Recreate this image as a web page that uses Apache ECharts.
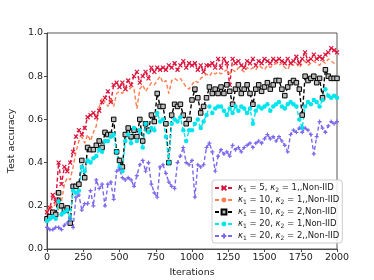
<!DOCTYPE html>
<html><head><meta charset="utf-8">
<script src="https://cdn.jsdelivr.net/npm/echarts@6/dist/echarts.min.js"></script>
<style>html,body{margin:0;padding:0;background:#fff}#c{width:374px;height:280px}</style>
</head><body><div id="c"></div>
<script>
const iterations = Array.from({length: 101}, (_, i) => i * 20);
const xTicks = [0, 250, 500, 750, 1000, 1250, 1500, 1750, 2000];
const yTicks = [0.0, 0.2, 0.4, 0.6, 0.8, 1.0];
const seriesNames = ['k1=5,k2=1','k1=10,k2=1','k1=10,k2=2a','k1=20,k2=1','k1=20,k2=2'];
const legendLabels = [['5','1',',,Non-IID'],['10','1',',,Non-IID'],['10','2',',Non-IID'],['20','1',',Non-IID'],['20','2',',,Non-IID']];

const red = [0.17,0.19,0.25,0.22,0.40,0.30,0.38,0.36,0.40,0.45,
0.52,0.55,0.53,0.56,0.61,0.62,0.63,0.61,0.64,0.68,
0.70,0.73,0.68,0.76,0.77,0.75,0.77,0.74,0.78,0.76,
0.80,0.82,0.77,0.80,0.82,0.79,0.84,0.82,0.84,0.83,
0.84,0.83,0.85,0.84,0.86,0.83,0.85,0.87,0.84,0.86,
0.85,0.86,0.83,0.85,0.82,0.85,0.85,0.86,0.84,0.88,
0.84,0.88,0.86,0.76,0.88,0.86,0.87,0.85,0.84,0.87,
0.86,0.88,0.85,0.87,0.86,0.88,0.87,0.86,0.88,0.87,
0.88,0.87,0.86,0.88,0.86,0.87,0.89,0.86,0.88,0.91,
0.87,0.88,0.90,0.88,0.89,0.88,0.90,0.91,0.93,0.92,0.91];
const orange = [0.17,0.20,0.19,0.21,0.18,0.22,0.30,0.33,0.32,0.38,
0.45,0.50,0.52,0.49,0.53,0.50,0.54,0.57,0.66,0.70,
0.68,0.66,0.70,0.66,0.72,0.73,0.72,0.74,0.73,0.75,
0.74,0.65,0.74,0.76,0.73,0.75,0.77,0.76,0.78,0.80,
0.77,0.78,0.72,0.78,0.79,0.78,0.79,0.77,0.75,0.74,
0.76,0.78,0.77,0.79,0.80,0.81,0.80,0.82,0.81,0.82,
0.81,0.82,0.83,0.81,0.83,0.82,0.84,0.83,0.82,0.84,
0.83,0.84,0.83,0.85,0.84,0.83,0.85,0.84,0.85,0.86,
0.85,0.86,0.84,0.83,0.86,0.85,0.86,0.84,0.86,0.87,
0.85,0.86,0.87,0.86,0.85,0.87,0.86,0.88,0.87,0.86,0.85];
const black = [0.14,0.15,0.17,0.16,0.26,0.20,0.18,0.19,0.12,0.29,
0.29,0.30,0.41,0.33,0.47,0.46,0.46,0.48,0.50,0.47,
0.54,0.53,0.53,0.60,0.45,0.41,0.38,0.53,0.56,0.52,
0.55,0.52,0.60,0.50,0.58,0.55,0.62,0.59,0.72,0.66,
0.66,0.58,0.40,0.62,0.67,0.66,0.67,0.62,0.58,0.60,
0.69,0.74,0.70,0.63,0.66,0.70,0.75,0.72,0.74,0.72,
0.75,0.72,0.76,0.73,0.67,0.74,0.76,0.72,0.74,0.76,
0.72,0.67,0.74,0.76,0.73,0.75,0.77,0.74,0.76,0.78,
0.78,0.74,0.71,0.75,0.77,0.78,0.77,0.74,0.62,0.80,
0.78,0.79,0.80,0.77,0.79,0.70,0.83,0.80,0.79,0.79,0.79];
const cyan = [0.13,0.14,0.15,0.14,0.22,0.16,0.17,0.18,0.14,0.27,
0.26,0.27,0.38,0.36,0.41,0.40,0.42,0.43,0.46,0.45,
0.50,0.50,0.52,0.53,0.45,0.38,0.36,0.50,0.53,0.49,
0.56,0.50,0.55,0.47,0.58,0.54,0.56,0.55,0.63,0.59,
0.60,0.52,0.40,0.58,0.60,0.59,0.61,0.55,0.50,0.55,
0.55,0.58,0.60,0.56,0.59,0.62,0.66,0.63,0.65,0.66,
0.66,0.64,0.62,0.65,0.63,0.66,0.64,0.66,0.65,0.63,
0.65,0.58,0.64,0.66,0.65,0.66,0.67,0.64,0.66,0.67,
0.68,0.66,0.65,0.67,0.68,0.67,0.66,0.60,0.56,0.66,
0.68,0.67,0.69,0.68,0.66,0.69,0.74,0.71,0.70,0.71,0.70];
const purple = [0.10,0.09,0.09,0.10,0.10,0.09,0.11,0.12,0.14,0.10,
0.24,0.25,0.18,0.21,0.21,0.27,0.20,0.32,0.28,0.30,
0.20,0.30,0.31,0.23,0.36,0.37,0.33,0.32,0.33,0.32,
0.29,0.34,0.39,0.41,0.36,0.40,0.30,0.26,0.24,0.38,
0.39,0.35,0.31,0.29,0.28,0.40,0.43,0.47,0.40,0.39,
0.41,0.24,0.39,0.38,0.39,0.47,0.49,0.45,0.36,0.43,
0.46,0.44,0.45,0.43,0.48,0.46,0.47,0.45,0.47,0.48,
0.49,0.47,0.49,0.50,0.49,0.51,0.53,0.51,0.52,0.50,
0.52,0.50,0.48,0.45,0.53,0.55,0.54,0.56,0.54,0.56,
0.55,0.53,0.44,0.52,0.59,0.56,0.54,0.57,0.59,0.58,0.59];

const allValues = [red, orange, black, cyan, purple];
const colors = ['#DC143C', '#FF7F50', '#000000', '#00E5EE', '#7B68EE'];
const XPATH = 'path://M0,0L10,10M10,0L0,10';
const PLUS = 'path://M5,0L5,10M0,5L10,5';
const symbols = [
  {symbol: XPATH, size: 4, item: {color: 'none', borderColor: colors[0], borderWidth: 1.2}},
  {symbol: 'none', size: 0, item: {color: colors[1]}},
  {symbol: 'rect', size: 4.5, item: {color: '#bbbbbb', borderColor: '#000', borderWidth: 1}},
  {symbol: 'circle', size: 4.5, item: {color: colors[3]}},
  {symbol: PLUS, size: 4, item: {color: 'none', borderColor: colors[4], borderWidth: 1.2}}
];

const font = 'DejaVu Sans';
const series = allValues.map((vals, i) => ({
  name: seriesNames[i],
  type: 'line',
  data: iterations.map((x, j) => [x, vals[j]]),
  symbol: symbols[i].symbol,
  symbolSize: symbols[i].size,
  showSymbol: symbols[i].symbol !== 'none',
  lineStyle: {color: colors[i], width: 1.4, type: [4, 2.5]},
  itemStyle: symbols[i].item,
  emphasis: {disabled: true},
  animation: false
}));

const chart = echarts.init(document.getElementById('c'), null, {renderer: 'canvas'});
chart.setOption({
  backgroundColor: '#fff',
  animation: false,
  textStyle: {fontFamily: font},
  grid: {left: 47, right: 37, top: 33, bottom: 31, show: true, borderColor: '#444', borderWidth: 0.9, containLabel: false, outerBoundsMode: 'none'},
  xAxis: {
    type: 'value', min: xTicks[0], max: xTicks[xTicks.length - 1], interval: 250,
    name: 'Iterations', nameLocation: 'middle', nameGap: 17,
    nameTextStyle: {fontFamily: font, fontSize: 9.5, color: '#222'},
    axisLine: {show: true, lineStyle: {color: '#444', width: 0.9}},
    axisTick: {show: true, inside: false, length: 3, lineStyle: {color: '#444'}},
    axisLabel: {fontFamily: font, fontSize: 9.5, color: '#222', margin: 4, formatter: v => String(v)},
    splitLine: {show: false}
  },
  yAxis: {
    type: 'value', min: yTicks[0], max: yTicks[yTicks.length - 1], interval: 0.2,
    name: 'Test accuracy', nameLocation: 'middle', nameGap: 26,
    nameTextStyle: {fontFamily: font, fontSize: 9.5, color: '#222'},
    axisLine: {show: true, lineStyle: {color: '#444', width: 0.9}},
    axisTick: {show: true, inside: false, length: 3, lineStyle: {color: '#444'}},
    axisLabel: {fontFamily: font, fontSize: 9.5, color: '#222', margin: 4, formatter: v => v.toFixed(1)},
    splitLine: {show: false}
  },
  legend: {
    orient: 'vertical', left: 212, top: 180,
    itemWidth: 18, itemHeight: 6, itemGap: 2,
    padding: [3, 3, 2, 2],
    backgroundColor: 'rgba(255,255,255,0.85)',
    borderColor: '#cccccc', borderWidth: 1, borderRadius: 3,
    data: seriesNames,
    formatter: name => {
      const l = legendLabels[seriesNames.indexOf(name)];
      return '{i|κ}{s|1}{t| = ' + l[0] + ', }{i|κ}{s|2}{t| = ' + l[1] + l[2] + '}';
    },
    textStyle: {
      fontFamily: font, fontSize: 8.5, color: '#222', lineHeight: 10,
      rich: {
        i: {fontFamily: font, fontSize: 8.5, fontStyle: 'italic', color: '#222', lineHeight: 10},
        s: {fontFamily: font, fontSize: 6, color: '#222', lineHeight: 6, verticalAlign: 'bottom'},
        t: {fontFamily: font, fontSize: 8.5, color: '#222', lineHeight: 10}
      }
    }
  },
  series: series
});
</script></body></html>
